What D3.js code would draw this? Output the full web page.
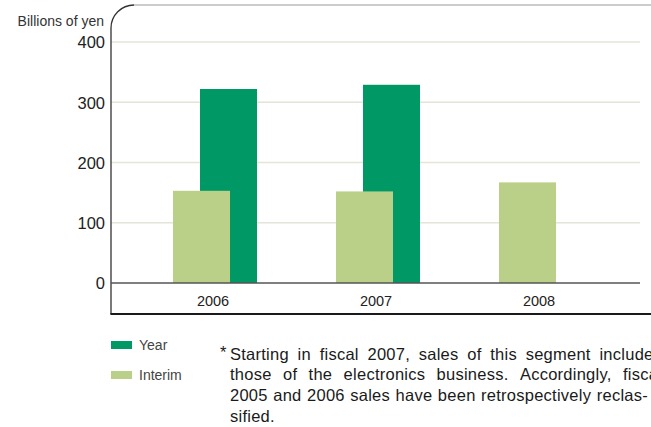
<!DOCTYPE html>
<html>
<head>
<meta charset="utf-8">
<script src="https://cdn.jsdelivr.net/npm/d3@7"></script>
<style>
  body { margin: 0; background: #fff; overflow: hidden; }
  svg { display: block; font-family: "Liberation Sans", Arial, sans-serif; }
</style>
</head>
<body>
<svg id="chart"></svg>
<script>
const categories = ["2006", "2007", "2008"];
const yearValues = [322, 329, null];
const interimValues = [153, 152, 167];
const yTicks = [0, 100, 200, 300, 400];
const legendLabels = ["Year", "Interim"];
const footnoteLines = [
  "Starting in fiscal 2007, sales of this segment includes",
  "those of the electronics business. Accordingly, fiscal",
  "2005 and 2006 sales have been retrospectively reclas-",
  "sified."
];

document.addEventListener('DOMContentLoaded', function() {
  const W = 651, H = 427;
  const left = 111, top = 5, plotBottom = 314;
  const colors = { year: "#009966", interim: "#bacf87" };

  const svg = d3.select("#chart").attr("width", W).attr("height", H);

  const x = d3.scaleBand()
      .domain(categories)
      .range([131.5, 620.5]);
  const y = d3.scaleLinear()
      .domain([0, 400])
      .range([283, 42]);

  const barW = 57;

  // gridlines
  svg.append("g")
    .selectAll("line")
    .data(yTicks.filter(d => d > 0))
    .enter().append("line")
      .attr("x1", left).attr("x2", 640)
      .attr("y1", d => y(d)).attr("y2", d => y(d))
      .attr("stroke", "#e4e4d8")
      .attr("stroke-width", 1.5);

  // frame: left side with rounded corner, grey top line, heavy bottom
  const r = 23;
  svg.append("path")
      .attr("d", `M${left},${plotBottom} L${left},${top + r} A${r},${r} 0 0 1 ${left + r},${top}`)
      .attr("fill", "none")
      .attr("stroke", "#333")
      .attr("stroke-width", 1.3);
  svg.append("line")
      .attr("x1", left + r).attr("x2", W)
      .attr("y1", top).attr("y2", top)
      .attr("stroke", "#9a9a9a")
      .attr("stroke-width", 1.2);
  svg.append("line")
      .attr("x1", left - 0.6).attr("x2", W)
      .attr("y1", plotBottom).attr("y2", plotBottom)
      .attr("stroke", "#1a1a1a")
      .attr("stroke-width", 2);

  // bars: year behind, interim in front
  svg.append("g")
    .selectAll("rect")
    .data(categories.map((c, i) => ({ c, v: yearValues[i] })).filter(d => d.v != null))
    .enter().append("rect")
      .attr("x", d => x(d.c) + x.bandwidth() / 2 - 13)
      .attr("width", barW)
      .attr("y", d => y(d.v))
      .attr("height", d => y(0) - y(d.v))
      .attr("fill", colors.year);

  svg.append("g")
    .selectAll("rect")
    .data(categories.map((c, i) => ({ c, v: interimValues[i] })))
    .enter().append("rect")
      .attr("x", d => x(d.c) + x.bandwidth() / 2 - 40)
      .attr("width", barW)
      .attr("y", d => y(d.v))
      .attr("height", d => y(0) - y(d.v))
      .attr("fill", colors.interim);

  // zero line
  svg.append("line")
      .attr("x1", left).attr("x2", 640)
      .attr("y1", y(0)).attr("y2", y(0))
      .attr("stroke", "#555")
      .attr("stroke-width", 1.3);

  // y axis labels
  const yAxis = svg.append("g")
      .attr("transform", "translate(105,0)")
      .call(d3.axisLeft(y).tickValues(yTicks).tickSize(0).tickPadding(0));
  yAxis.select(".domain").remove();
  yAxis.selectAll("text")
      .attr("font-size", "16.5px")
      .attr("font-family", "'Liberation Sans', Arial, sans-serif")
      .attr("fill", "#222")
      .attr("dy", "0.36em");

  svg.append("text")
      .attr("x", 104).attr("y", 26)
      .attr("text-anchor", "end")
      .attr("font-size", "14px")
      .attr("fill", "#333")
      .text("Billions of yen");

  // x axis labels
  const xAxis = svg.append("g")
      .attr("transform", `translate(0,${y(0)})`)
      .call(d3.axisBottom(x).tickSize(0).tickPadding(0));
  xAxis.select(".domain").remove();
  xAxis.selectAll("text")
      .attr("font-size", "14.5px")
      .attr("font-family", "'Liberation Sans', Arial, sans-serif")
      .attr("fill", "#222")
      .attr("y", 23)
      .attr("dy", 0);

  // legend
  const legend = svg.append("g");
  legendLabels.forEach((lab, i) => {
    const ly = 341 + i * 30;
    legend.append("rect")
        .attr("x", 111).attr("y", ly)
        .attr("width", 21).attr("height", 8)
        .attr("fill", i === 0 ? colors.year : colors.interim);
    legend.append("text")
        .attr("x", 139).attr("y", ly + 8.5)
        .attr("font-size", "14px")
        .attr("fill", "#444")
        .text(lab);
  });

  // footnote, justified line by line
  const note = svg.append("g")
      .attr("fill", "#1a1a1a")
      .attr("font-size", "16.5px")
      .attr("letter-spacing", "0.25px");
  note.append("text").attr("x", 220).attr("y", 358).text("*");
  const x0 = 230;
  const lineRight = [662, 662, 648, null];
  footnoteLines.forEach((line, i) => {
    const by = 359.5 + i * 20.7;
    const words = line.split(" ");
    const t = note.append("text").attr("y", by);
    const spans = words.map(w => t.append("tspan").text(w));
    const widths = spans.map(s => s.node().getComputedTextLength());
    const total = d3.sum(widths);
    const gap = lineRight[i] == null || words.length < 2
      ? 4.6
      : (lineRight[i] - x0 - total) / (words.length - 1);
    let cx = x0;
    spans.forEach((s, k) => {
      s.attr("x", cx);
      cx += widths[k] + gap;
    });
  });
});
</script>
</body>
</html>
